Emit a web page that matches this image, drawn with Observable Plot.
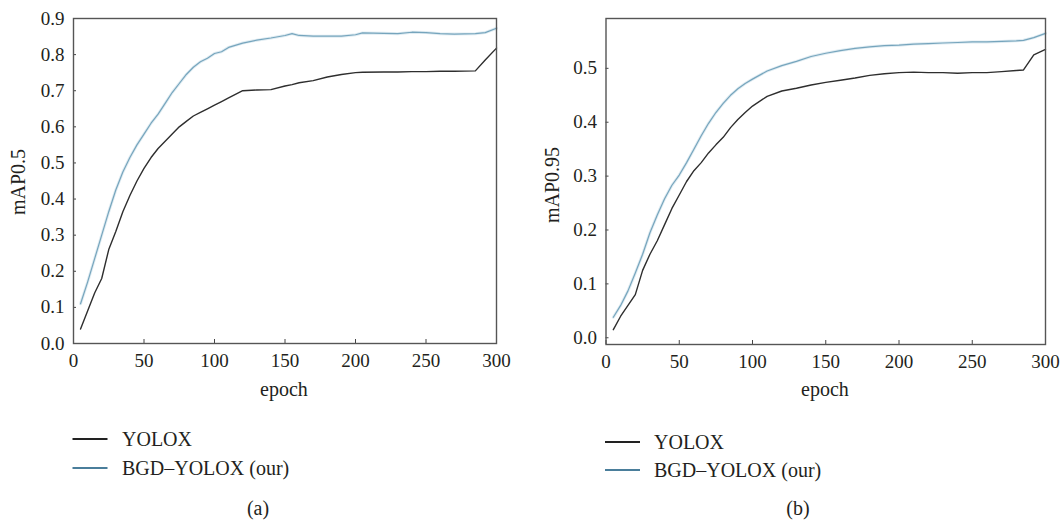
<!DOCTYPE html>
<html><head><meta charset="utf-8">
<script src="https://cdn.jsdelivr.net/npm/d3@7"></script>
<script src="https://cdn.jsdelivr.net/npm/@observablehq/plot@0.6"></script>
<style>
body{margin:0;background:#fff;}
#wrap{position:relative;width:1064px;height:524px;overflow:hidden;font-family:'Liberation Serif',serif;}
#wrap > svg{position:absolute;top:0;}
#wrap svg, #wrap svg text{font-family:'Liberation Serif',serif !important;}
</style></head><body>
<div id="wrap"></div>
<script>
// ---------- data ----------
const seriesNames = ["YOLOX", "BGD\u2013YOLOX (our)"];
const xTicks = [0, 50, 100, 150, 200, 250, 300];
const yTicksA = [0, 0.1, 0.2, 0.3, 0.4, 0.5, 0.6, 0.7, 0.8, 0.9];
const yTicksB = [0, 0.1, 0.2, 0.3, 0.4, 0.5];

const epochsA = [5,10,15,20,25,30,35,40,45,50,55,60,65,70,75,80,85,90,95,100,105,110,120,130,140,150,155,160,170,180,190,200,205,220,230,240,250,260,270,285,292,300];
const yoloxA  = [0.04,0.09,0.14,0.18,0.26,0.31,0.365,0.41,0.45,0.485,0.515,0.54,0.56,0.58,0.60,0.615,0.63,0.64,0.65,0.66,0.67,0.68,0.70,0.702,0.703,0.713,0.717,0.722,0.728,0.738,0.745,0.75,0.751,0.752,0.752,0.753,0.753,0.754,0.754,0.755,0.785,0.818];
const bgdA    = [0.11,0.17,0.235,0.30,0.365,0.425,0.475,0.515,0.55,0.58,0.61,0.635,0.665,0.695,0.72,0.745,0.765,0.78,0.79,0.803,0.808,0.82,0.832,0.84,0.846,0.853,0.858,0.853,0.851,0.851,0.851,0.855,0.86,0.859,0.858,0.862,0.861,0.858,0.857,0.858,0.861,0.873];

const epochsB = [5,10,15,20,25,30,35,40,45,50,55,60,65,70,75,80,85,90,95,100,110,120,130,140,150,160,170,180,190,200,210,220,230,240,250,260,270,280,285,292,300];
const yoloxB  = [0.015,0.04,0.06,0.08,0.125,0.155,0.18,0.21,0.24,0.265,0.29,0.31,0.325,0.343,0.358,0.372,0.39,0.405,0.418,0.43,0.448,0.458,0.463,0.469,0.474,0.478,0.482,0.487,0.49,0.492,0.493,0.492,0.492,0.491,0.492,0.492,0.494,0.496,0.497,0.525,0.535];
const bgdB    = [0.038,0.06,0.087,0.12,0.155,0.195,0.228,0.258,0.283,0.302,0.325,0.35,0.375,0.398,0.418,0.435,0.45,0.462,0.472,0.48,0.495,0.505,0.513,0.522,0.528,0.533,0.537,0.54,0.542,0.543,0.545,0.546,0.547,0.548,0.549,0.549,0.55,0.551,0.552,0.557,0.565];

// ---------- style ----------
const FONT = "'Liberation Serif', serif";
const TEXT = "#231f20";
const W = 532, H = 400, MT = 18;

function chart({epochs, s1, s2, yDomain, yTicks, ml, mr, mb}) {
  const data = epochs.map((e, i) => ({epoch: e, yolox: s1[i], bgd: s2[i]}));
  const pw = W - ml - mr, ph = H - MT - mb;
  return Plot.plot({
    width: W, height: H,
    marginLeft: ml, marginRight: mr, marginTop: MT, marginBottom: mb,
    x: {domain: [0, 300]},
    y: {domain: yDomain},
    style: {fontFamily: FONT, fontSize: "19px", color: TEXT, background: "transparent", overflow: "visible"},
    marks: [
      Plot.axisX({ticks: xTicks, tickSize: 0, tickPadding: 10, label: null, tickFormat: d3.format("d")}),
      Plot.axisY({ticks: yTicks, tickSize: 0, tickPadding: 9, label: null, tickFormat: d3.format(".1f")}),
      Plot.ruleX(xTicks, {x: d => d, insetTop: ph - 4, stroke: "#444", strokeWidth: 1}),
      Plot.ruleY(yTicks, {y: d => d, insetRight: pw - 3, stroke: "#444", strokeWidth: 1}),
      Plot.lineY(data, {x: "epoch", y: "bgd", stroke: "#e0ecf2", strokeWidth: 3}),
      Plot.lineY(data, {x: "epoch", y: "bgd", stroke: "#76a5bd", strokeWidth: 1.2}),
      Plot.lineY(data, {x: "epoch", y: "yolox", stroke: "#2e2e2e", strokeWidth: 1.4}),
      Plot.frame({stroke: "#555", strokeWidth: 1.4})
    ]
  });
}

const wrap = document.getElementById("wrap");
const a = chart({epochs: epochsA, s1: yoloxA, s2: bgdA, yDomain: [0, 0.9], yTicks: yTicksA, ml: 73, mr: 36, mb: 57});
a.style.left = "0px";
wrap.appendChild(a);
const b = chart({epochs: epochsB, s1: yoloxB, s2: bgdB, yDomain: [-0.0125, 0.5925], yTicks: yTicksB, ml: 73.5, mr: 19, mb: 56});
b.style.left = "532px";
wrap.appendChild(b);

// ---------- labels & legends overlay ----------
const ov = d3.select(wrap).append("svg")
  .attr("width", 1064).attr("height", 524)
  .style("left", "0px").style("pointer-events", "none")
  .attr("font-family", FONT).attr("fill", TEXT);

function txt(x, y, s, size, anchor, rot) {
  const t = ov.append("text").attr("font-size", size).attr("text-anchor", anchor || "start").text(s);
  if (rot) t.attr("transform", `translate(${x},${y}) rotate(${rot})`);
  else t.attr("x", x).attr("y", y);
  return t;
}
txt(284, 396, "epoch", 20, "middle");
txt(825, 396, "epoch", 20, "middle");
txt(25, 182, "mAP0.5", 20, "middle", -90);
txt(559, 185, "mAP0.95", 20, "middle", -90);

const legColors = ["#222", "#4a7e9b"];
function legend(x0, ys, tx) {
  seriesNames.forEach((n, i) => {
    ov.append("line").attr("x1", x0).attr("x2", x0 + 35).attr("y1", ys[i]).attr("y2", ys[i])
      .attr("stroke", legColors[i]).attr("stroke-width", 2);
    txt(tx, ys[i] + 6.5, n, 20, "start");
  });
}
legend(72.5, [439, 468], 122);
legend(605, [442, 470], 654);

txt(258, 515, "(a)", 20, "middle");
txt(798, 515, "(b)", 20, "middle");
</script>
</body></html>
